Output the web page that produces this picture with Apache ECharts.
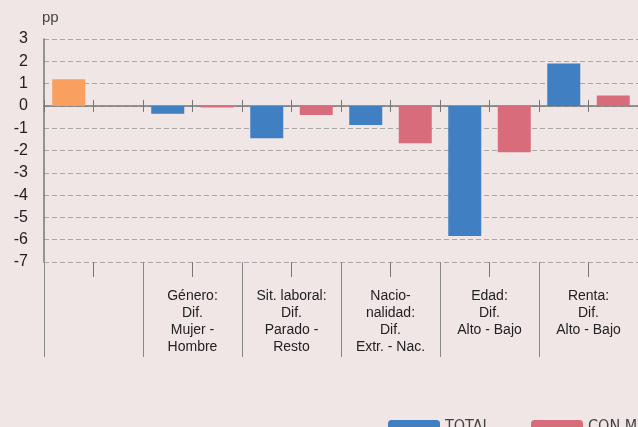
<!DOCTYPE html>
<html>
<head>
<meta charset="utf-8">
<script src="https://cdn.jsdelivr.net/npm/echarts@6/dist/echarts.min.js"></script>
<style>
html,body{margin:0;padding:0;background:#f1e6e6;}
#c{width:638px;height:427px;}
</style>
</head>
<body>
<div id="c"></div>
<script>
// Group labels (each group spans two bar slots)
var groupLabels = ['', 'Género:\nDif.\nMujer -\nHombre', 'Sit. laboral:\nDif.\nParado -\nResto', 'Nacio-\nnalidad:\nDif.\nExtr. - Nac.', 'Edad:\nDif.\nAlto - Bajo', 'Renta:\nDif.\nAlto - Bajo'];
// Values per group (pp)
var overallValue = 1.2;
var totalValues = [-0.35, -1.45, -0.86, -5.83, 1.90];
var conValues = [-0.07, -0.41, -1.67, -2.08, 0.47];
var seriesNames = ['TOTAL', 'CON MOVILIDAD'];
var yTicks = [-7, 3, 1];

// build slot arrays (two slots per group)
var slots = [], sOverall = [], sTotal = [], sCon = [];
for (var g = 0; g < groupLabels.length; g++) {
  slots.push('g' + g + 'a', 'g' + g + 'b');
  if (g === 0) {
    sOverall.push(overallValue, null); sTotal.push(null, null); sCon.push(null, null);
  } else {
    sOverall.push(null, null);
    sTotal.push(totalValues[g - 1], null);
    sCon.push(null, conValues[g - 1]);
  }
}

var gridRect = {left: 44, right: 0, top: 39, height: 223};
function hiddenY(i) {
  return {type: 'value', gridIndex: i, min: yTicks[0], max: yTicks[1], interval: yTicks[2], show: false};
}
var chart = echarts.init(document.getElementById('c'));
chart.setOption({
  backgroundColor: '#f1e6e6',
  animation: false,
  grid: [gridRect, gridRect, gridRect, gridRect].map(function (r) { return Object.assign({}, r); }),
  legend: [
    {data: [seriesNames[0]], left: 388, top: 419, padding: 0, itemWidth: 52, itemHeight: 14, itemGap: 0,
     textStyle: {fontFamily: '"DejaVu Sans Condensed","Roboto Condensed","Liberation Sans Narrow",Roboto,sans-serif', fontSize: 16, color: '#444', padding: [0, 0, 9, 0]}},
    {data: [seriesNames[1]], left: 531, top: 419, padding: 0, itemWidth: 52, itemHeight: 14, itemGap: 0,
     textStyle: {fontFamily: '"DejaVu Sans Condensed","Roboto Condensed","Liberation Sans Narrow",Roboto,sans-serif', fontSize: 16, color: '#444', padding: [0, 0, 9, 0]}}
  ],
  xAxis: [
    // zero line with downward ticks
    {type: 'category', gridIndex: 0, data: slots, position: 'bottom',
     axisLine: {show: true, onZero: true, lineStyle: {color: '#777', width: 1.5}},
     axisTick: {show: true, length: 6, interval: 0, lineStyle: {color: '#777', width: 1}},
     axisLabel: {show: false}, splitLine: {show: false}},
    // zero line upward ticks
    {type: 'category', gridIndex: 1, data: slots, position: 'bottom',
     axisLine: {show: false, onZero: true},
     axisTick: {show: true, inside: true, length: 6, interval: 0, lineStyle: {color: '#777', width: 1}},
     axisLabel: {show: false}, splitLine: {show: false}},
    // bottom short ticks
    {type: 'category', gridIndex: 2, data: slots, position: 'bottom',
     axisLine: {show: false, onZero: false},
     axisTick: {show: true, length: 15, interval: 0, lineStyle: {color: '#777', width: 1}},
     axisLabel: {show: false}, splitLine: {show: false}},
    // group separators + labels
    {type: 'category', gridIndex: 3, data: groupLabels, position: 'bottom',
     axisLine: {show: false, onZero: false},
     axisTick: {show: true, length: 95, interval: 0, lineStyle: {color: '#888', width: 1}},
     axisLabel: {show: true, interval: 0, margin: 25, fontSize: 14, lineHeight: 17.3,
                 fontFamily: '"Liberation Sans", Arial, sans-serif', color: '#222', align: 'center'},
     splitLine: {show: false}}
  ],
  yAxis: [
    {type: 'value', gridIndex: 0, min: yTicks[0], max: yTicks[1], interval: yTicks[2],
     name: 'pp', nameLocation: 'end', nameGap: 21,
     nameTextStyle: {fontSize: 15, color: '#444', align: 'left', verticalAlign: 'middle', padding: [0, 0, 0, -2],
                     fontFamily: '"Liberation Sans", Arial, sans-serif'},
     axisLine: {show: true, onZero: false, lineStyle: {color: '#777', width: 1.5}},
     axisTick: {show: false},
     axisLabel: {margin: 16, fontSize: 16, color: '#222', fontFamily: '"Liberation Sans", Arial, sans-serif'},
     splitLine: {show: true, lineStyle: {color: '#a8a8a8', type: [5, 3], width: 1}}},
    hiddenY(1), hiddenY(2), hiddenY(3)
  ],
  series: [
    {name: 'Total', type: 'bar', xAxisIndex: 0, yAxisIndex: 0, stack: 's', barWidth: 33, data: sOverall,
     itemStyle: {color: '#f99f5f'}},
    {name: seriesNames[0], type: 'bar', xAxisIndex: 0, yAxisIndex: 0, stack: 's', barWidth: 33, data: sTotal,
     itemStyle: {color: '#3f7fc2'}},
    {name: seriesNames[1], type: 'bar', xAxisIndex: 0, yAxisIndex: 0, stack: 's', barWidth: 33, data: sCon,
     itemStyle: {color: '#d96c7a'}}
  ]
});
</script>
</body>
</html>
